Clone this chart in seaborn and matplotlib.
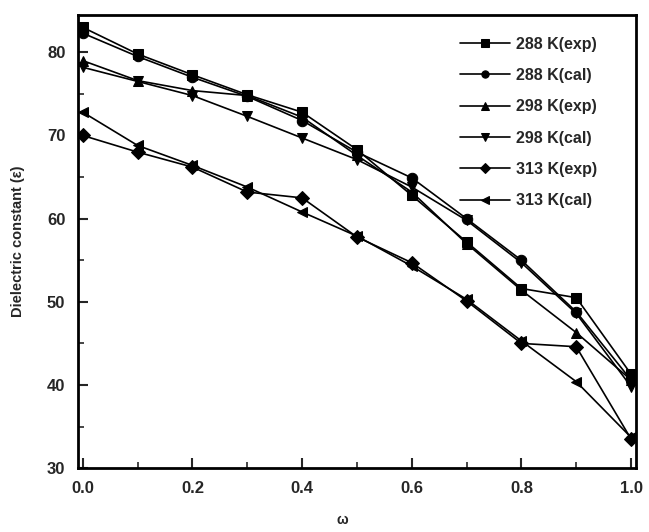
import numpy as np
import pandas as pd
from matplotlib import pyplot as plt
from matplotlib.ticker import MultipleLocator
import seaborn as sns

# mass fraction
w = [0.0, 0.1, 0.2, 0.3, 0.4, 0.5, 0.6, 0.7, 0.8, 0.9, 1.0]

k288_exp = [83.0, 79.8, 77.3, 74.9, 72.8, 68.3, 62.8, 57.2, 51.6, 50.5, 41.3]
k288_cal = [82.3, 79.5, 77.0, 74.7, 71.8, 68.0, 64.9, 60.0, 55.0, 48.8, 40.6]
k298_exp = [79.0, 76.6, 75.4, 74.8, 72.2, 67.6, 63.2, 57.0, 51.4, 46.3, 40.6]
k298_cal = [78.2, 76.5, 74.8, 72.3, 69.7, 67.1, 63.8, 59.8, 54.7, 48.6, 39.8]
k313_exp = [70.0, 68.0, 66.2, 63.2, 62.5, 57.8, 54.7, 50.1, 45.0, 44.6, 33.5]
k313_cal = [72.8, 68.8, 66.4, 63.8, 60.8, 57.9, 54.3, 50.3, 45.3, 40.4, 33.7]

labels = ["288 K(exp)", "288 K(cal)", "298 K(exp)", "298 K(cal)", "313 K(exp)", "313 K(cal)"]
series = [k288_exp, k288_cal, k298_exp, k298_cal, k313_exp, k313_cal]
marks = ["s", "o", "^", "v", "D", "<"]

rows = []
for lab, vals in zip(labels, series):
    for x, y in zip(w, vals):
        rows.append((lab, x, y))
df = pd.DataFrame(rows, columns=["series", "w", "eps"])

sns.set_style("ticks")
plt.rcParams['font.family'] = ['Liberation Sans', 'DejaVu Sans']
plt.rcParams['font.weight'] = 'bold'

fig = plt.figure(figsize=(6.49, 5.32), dpi=100)
ax = fig.add_axes([0.120, 0.120, 0.860, 0.852])

sns.lineplot(data=df, x="w", y="eps", hue="series", style="series",
             markers=dict(zip(labels, marks)), dashes=False,
             palette=["black"] * 6, markersize=7.5, linewidth=1.2,
             markeredgecolor="black", ax=ax)

ax.set_xlim(-0.009, 1.009)
ax.set_ylim(30, 84.5)
ax.xaxis.set_major_locator(MultipleLocator(0.2))
ax.xaxis.set_minor_locator(MultipleLocator(0.1))
ax.yaxis.set_major_locator(MultipleLocator(10))
ax.yaxis.set_minor_locator(MultipleLocator(5))
ax.tick_params(which="major", direction="in", length=7, width=1.5, labelsize=12, pad=9)
ax.tick_params(which="minor", direction="in", length=4, width=1.2)
for s in ax.spines.values():
    s.set_linewidth(2)
    s.set_color("black")
for t in ax.get_xticklabels() + ax.get_yticklabels():
    t.set_fontweight("bold")

ax.set_xlabel("")
ax.set_ylabel("Dielectric constant (ε)", fontsize=10.5, fontweight="bold", labelpad=16)
fig.text(0.527, 0.022, "ω", fontsize=10, fontweight="bold", ha="center", va="center")

leg = ax.legend(loc="upper left", frameon=False, fontsize=11.5, handlelength=3.1,
                labelspacing=1.02, borderaxespad=0, borderpad=0, handletextpad=0.4,
                markerscale=0.7, bbox_to_anchor=(0.685, 0.952))
for t in leg.get_texts():
    t.set_fontweight("bold")

fig.savefig("out.png", dpi=100)
